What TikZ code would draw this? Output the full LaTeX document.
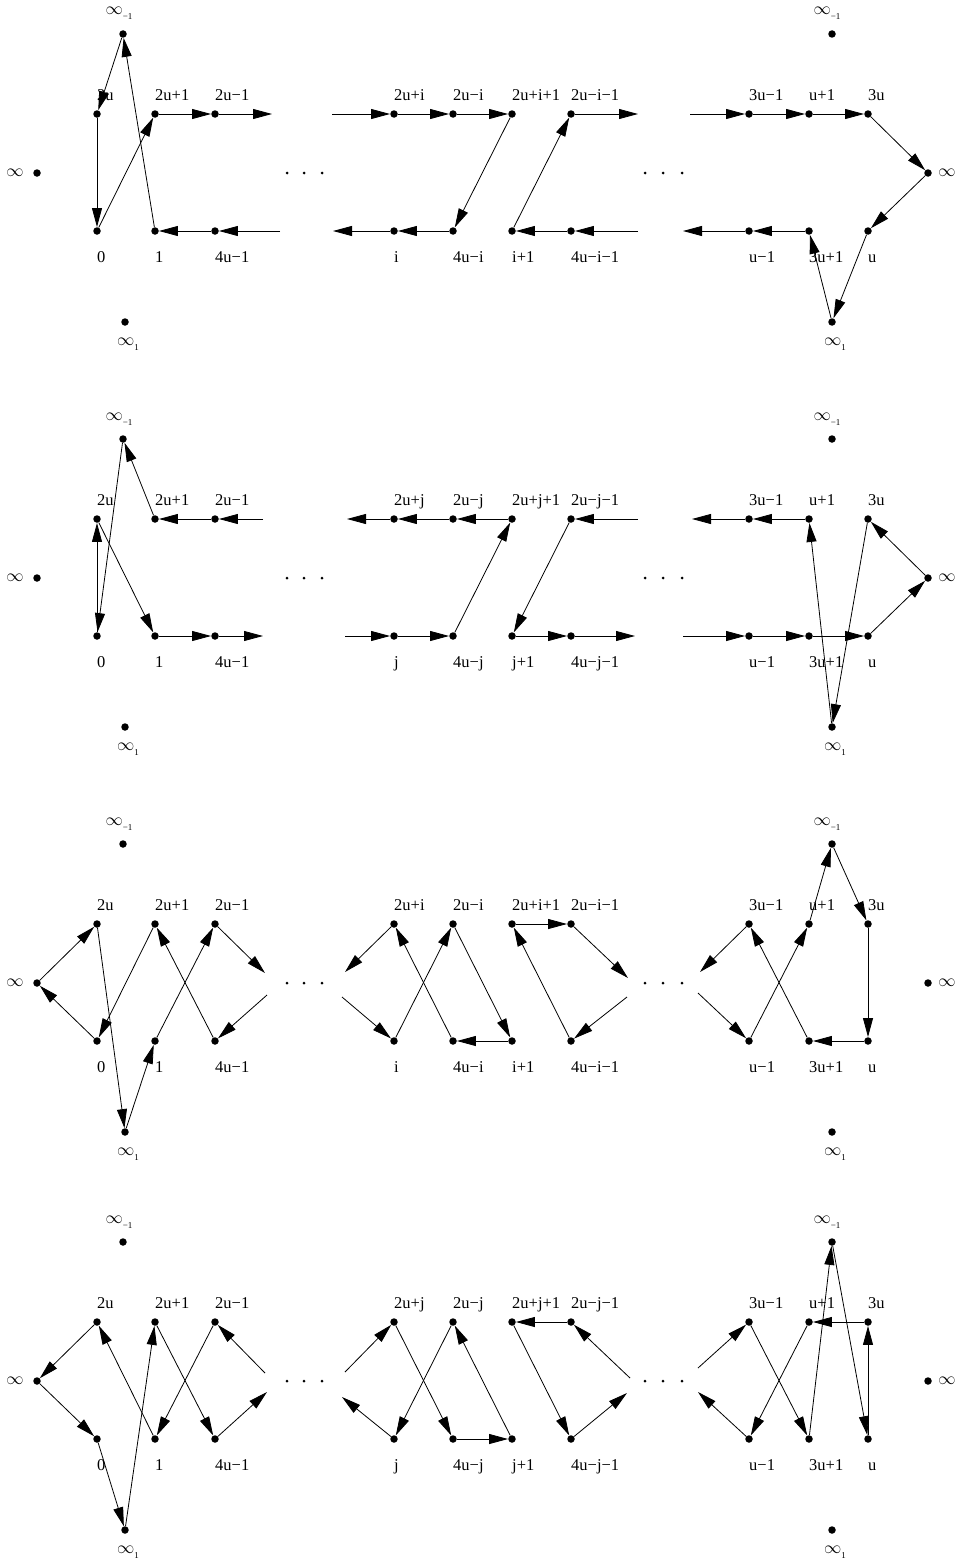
\documentclass[tikz,border=0pt]{standalone}
\usepackage{fontspec}
\setmainfont{Liberation Serif}
\usetikzlibrary{arrows.meta}
\newcommand\subx[1]{\raisebox{-5pt}{\fontsize{9}{9}\selectfont #1}}
\tikzset{
  dot/.style={circle,fill=black,inner sep=0pt,minimum size=7.5pt},
  sdot/.style={circle,fill=black,inner sep=0pt,minimum size=3pt},
  lab/.style={anchor=base west,inner sep=0pt,font=\fontsize{16.5}{19}\selectfont},
  inflab/.style={inner sep=0pt,font=\fontsize{17}{20}\selectfont},
  sublab/.style={anchor=base,inner sep=0pt,font=\fontsize{17}{20}\selectfont},
  arr/.style={line width=0.8pt,-{Triangle[length=19pt,width=10pt]}},
}
\newcommand\mkpanel[3]{%
 \begin{scope}[shift={(0,#1)}]
  \foreach \n/\x/\lt/\lb in {1/97/2u/0, 2/155/2u+1/1, 3/215/2u−1/4u−1, 4/394/2u+#3/#3, 5/453/2u−#3/4u−#3, 6/512/2u+#3+1/#3+1, 7/571/2u−#3−1/4u−#3−1, 8/749/3u−1/u−1, 9/809/u+1/3u+1, 10/868/3u/u}{
    \node[lab] at (\x,100) {\lt};
    \node[lab] at (\x,262) {\lb};
    \node[dot] (#2t\n) at (\x,114) {};
    \node[dot] (#2b\n) at (\x,231) {};
  }
  \node[dot] (#2L) at (37,173) {};
  \node[inflab] at (15,173) {$\infty$};
  \node[dot] (#2R) at (928,173) {};
  \node[inflab] at (947,173) {$\infty$};
  \node[dot] (#2LM) at (123,34) {};
  \node[sublab] at (119,15) {$\infty$\subx{−1}};
  \node[dot] (#2LP) at (125,322) {};
  \node[sublab] at (128,345) {$\infty$\subx{1}};
  \node[dot] (#2RM) at (832,34) {};
  \node[sublab] at (827,15) {$\infty$\subx{−1}};
  \node[dot] (#2RP) at (832,322) {};
  \node[sublab] at (835,345) {$\infty$\subx{1}};
  \foreach \x in {287,304,322,645,663,682}{\node[sdot] at (\x,173) {};}
 \end{scope}}
\begin{document}
\begin{tikzpicture}[x=1pt,y=-1pt]
\useasboundingbox (0,0) rectangle (956,1563);
\mkpanel{0}{A}{i}
\mkpanel{405}{B}{j}
\mkpanel{810}{C}{i}
\mkpanel{1208}{D}{j}
% ---------- panel 1
\begin{scope}[shift={(0,0)}]
\coordinate (A1) at (272,114);
\coordinate (A2) at (280,231);
\coordinate (A3) at (332,114);
\coordinate (A4) at (333,231);
\coordinate (A5) at (638,231);
\coordinate (A6) at (638,114);
\coordinate (A7) at (690,114);
\coordinate (A8) at (683,231);
\end{scope}
\draw[arr] (ALM) -- (At1);
\draw[arr] (At1) -- (Ab1);
\draw[arr] (Ab1) -- (At2);
\draw[arr] (Ab2) -- (ALM);
\draw[arr] (At2) -- (At3);
\draw[arr] (At3) -- (A1);
\draw[arr] (A2) -- (Ab3);
\draw[arr] (Ab3) -- (Ab2);
\draw[arr] (A3) -- (At4);
\draw[arr] (At4) -- (At5);
\draw[arr] (At5) -- (At6);
\draw[arr] (At6) -- (Ab5);
\draw[arr] (Ab5) -- (Ab4);
\draw[arr] (Ab4) -- (A4);
\draw[arr] (A5) -- (Ab7);
\draw[arr] (Ab7) -- (Ab6);
\draw[arr] (Ab6) -- (At7);
\draw[arr] (At7) -- (A6);
\draw[arr] (A7) -- (At8);
\draw[arr] (At8) -- (At9);
\draw[arr] (At9) -- (At10);
\draw[arr] (At10) -- (AR);
\draw[arr] (AR) -- (Ab10);
\draw[arr] (Ab10) -- (ARP);
\draw[arr] (ARP) -- (Ab9);
\draw[arr] (Ab9) -- (Ab8);
\draw[arr] (Ab8) -- (A8);
% ---------- panel 2
\begin{scope}[shift={(0,405)}]
\coordinate (B1) at (263,231);
\coordinate (B2) at (263,114);
\coordinate (B3) at (345,231);
\coordinate (B4) at (347,114);
\coordinate (B5) at (638,114);
\coordinate (B6) at (635,231);
\coordinate (B7) at (692,114);
\coordinate (B8) at (683,231);
\end{scope}
\draw[arr] (Bt2) -- (BLM);
\draw[arr] (BLM) -- (Bb1);
\draw[arr] (Bb1) -- (Bt1);
\draw[arr] (Bt1) -- (Bb2);
\draw[arr] (Bb2) -- (Bb3);
\draw[arr] (Bb3) -- (B1);
\draw[arr] (B2) -- (Bt3);
\draw[arr] (Bt3) -- (Bt2);
\draw[arr] (B3) -- (Bb4);
\draw[arr] (Bb4) -- (Bb5);
\draw[arr] (Bb5) -- (Bt6);
\draw[arr] (Bt6) -- (Bt5);
\draw[arr] (Bt5) -- (Bt4);
\draw[arr] (Bt4) -- (B4);
\draw[arr] (B5) -- (Bt7);
\draw[arr] (Bt7) -- (Bb6);
\draw[arr] (Bb6) -- (Bb7);
\draw[arr] (Bb7) -- (B6);
\draw[arr] (Bt9) -- (Bt8);
\draw[arr] (Bt8) -- (B7);
\draw[arr] (B8) -- (Bb8);
\draw[arr] (Bb8) -- (Bb9);
\draw[arr] (Bb9) -- (Bb10);
\draw[arr] (Bb10) -- (BR);
\draw[arr] (BR) -- (Bt10);
\draw[arr] (Bt10) -- (BRP);
\draw[arr] (BRP) -- (Bt9);
% ---------- panel 3
\begin{scope}[shift={(0,810)}]
\coordinate (C1) at (265,163);
\coordinate (C2) at (267,185);
\coordinate (C3) at (345,162);
\coordinate (C4) at (342,187);
\coordinate (C5) at (628,168);
\coordinate (C6) at (627,187);
\coordinate (C7) at (700,162);
\coordinate (C8) at (698,183);
\end{scope}
\draw[arr] (CL) -- (Ct1);
\draw[arr] (Cb1) -- (CL);
\draw[arr] (Ct1) -- (CLP);
\draw[arr] (CLP) -- (Cb2);
\draw[arr] (Ct2) -- (Cb1);
\draw[arr] (Cb2) -- (Ct3);
\draw[arr] (Cb3) -- (Ct2);
\draw[arr] (Ct3) -- (C1);
\draw[arr] (C2) -- (Cb3);
\draw[arr] (Ct4) -- (C3);
\draw[arr] (C4) -- (Cb4);
\draw[arr] (Cb4) -- (Ct5);
\draw[arr] (Cb5) -- (Ct4);
\draw[arr] (Ct5) -- (Cb6);
\draw[arr] (Cb6) -- (Cb5);
\draw[arr] (Cb7) -- (Ct6);
\draw[arr] (Ct6) -- (Ct7);
\draw[arr] (Ct7) -- (C5);
\draw[arr] (C6) -- (Cb7);
\draw[arr] (Ct8) -- (C7);
\draw[arr] (C8) -- (Cb8);
\draw[arr] (Cb8) -- (Ct9);
\draw[arr] (Cb9) -- (Ct8);
\draw[arr] (Ct9) -- (CRM);
\draw[arr] (CRM) -- (Ct10);
\draw[arr] (Ct10) -- (Cb10);
\draw[arr] (Cb10) -- (Cb9);
% ---------- panel 4
\begin{scope}[shift={(0,1208)}]
\coordinate (D1) at (265,165);
\coordinate (D2) at (267,184);
\coordinate (D3) at (345,164);
\coordinate (D4) at (342,189);
\coordinate (D5) at (627,185);
\coordinate (D6) at (630,170);
\coordinate (D7) at (698,160);
\coordinate (D8) at (698,184);
\end{scope}
\draw[arr] (Dt1) -- (DL);
\draw[arr] (DL) -- (Db1);
\draw[arr] (Db1) -- (DLP);
\draw[arr] (DLP) -- (Dt2);
\draw[arr] (Db2) -- (Dt1);
\draw[arr] (Dt2) -- (Db3);
\draw[arr] (Dt3) -- (Db2);
\draw[arr] (D1) -- (Dt3);
\draw[arr] (Db3) -- (D2);
\draw[arr] (D3) -- (Dt4);
\draw[arr] (Db4) -- (D4);
\draw[arr] (Dt4) -- (Db5);
\draw[arr] (Dt5) -- (Db4);
\draw[arr] (Db5) -- (Db6);
\draw[arr] (Db6) -- (Dt5);
\draw[arr] (Dt7) -- (Dt6);
\draw[arr] (Dt6) -- (Db7);
\draw[arr] (Db7) -- (D5);
\draw[arr] (D6) -- (Dt7);
\draw[arr] (D7) -- (Dt8);
\draw[arr] (Db8) -- (D8);
\draw[arr] (Dt8) -- (Db9);
\draw[arr] (Dt9) -- (Db8);
\draw[arr] (Db9) -- (DRM);
\draw[arr] (DRM) -- (Db10);
\draw[arr] (Db10) -- (Dt10);
\draw[arr] (Dt10) -- (Dt9);
\end{tikzpicture}
\end{document}
